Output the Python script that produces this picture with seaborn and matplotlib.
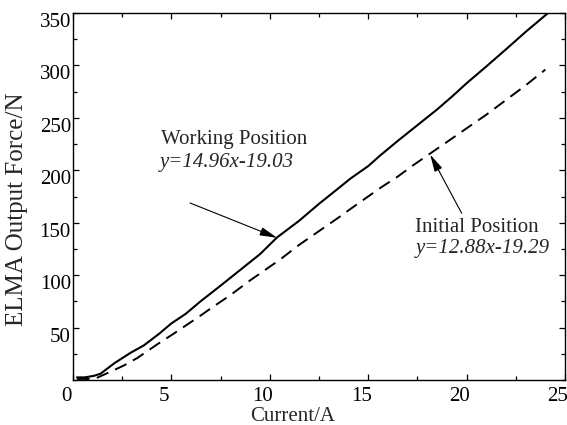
import numpy as np
import pandas as pd
import matplotlib
matplotlib.use("Agg")
import matplotlib.pyplot as plt
from matplotlib.ticker import MultipleLocator
from matplotlib.transforms import ScaledTranslation
import seaborn as sns

# Measured ELMA output force versus coil current
current_working = [0.2, 0.6, 1.07, 1.4, 2.1, 2.93, 3.6, 4.37, 5.0, 5.72, 6.48, 7.5, 8.5,
                   9.5, 10.37, 11.5, 12.5, 13.5, 14.09, 15.0, 15.6, 16.5, 17.5, 18.5,
                   19.3, 20.0, 21.0, 22.04, 23.0, 24.14]
force_working = [2.5, 2.5, 4, 6, 16, 26, 33, 44, 54, 63, 75, 90, 105, 120, 136, 152, 168,
                 183, 192, 204, 214, 228, 243, 258, 271, 283, 299, 316, 332, 350]

current_initial = [0.2, 0.8, 1.15, 1.92, 2.6, 3.27, 4.28, 5.1, 6.45, 6.98, 8.0, 9.0, 10.53,
                   11.5, 12.5, 13.5, 14.09, 15.6, 16.5, 17.3, 18.15, 19.0, 20.0, 21.0,
                   22.0, 23.0, 24.0]
force_initial = [1, 1, 1.5, 8, 14, 21, 34, 44, 61, 68, 81, 95, 115, 129, 142, 155, 163,
                 183, 194, 205, 216, 227, 240, 253, 267, 281, 296]

x_ticks = [0, 5, 10, 15, 20, 25]
y_ticks = [50, 100, 150, 200, 250, 300, 350]

working_label = "Working Position"
working_fit = "y=14.96x-19.03"
initial_label = "Initial Position"
initial_fit = "y=12.88x-19.29"

sns.set_style("ticks")
plt.rcParams["font.family"] = ["Liberation Serif", "DejaVu Serif"]

fig = plt.figure(figsize=(5.67, 4.25), dpi=100)
ax = fig.add_axes([73 / 567, 45 / 425, 492 / 567, 367 / 425])

df_w = pd.DataFrame({"current": current_working, "force": force_working})
df_i = pd.DataFrame({"current": current_initial, "force": force_initial})

sns.lineplot(data=df_w, x="current", y="force", ax=ax, color="black", lw=1.5,
             sort=False, estimator=None)
sns.lineplot(data=df_i, x="current", y="force", ax=ax, color="black", lw=1.4,
             sort=False, estimator=None, dashes=False, linestyle=(0, (6.5, 3.8)))

ax.set_xlim(0, 25)
ax.set_ylim(0, 350)
ax.set_xticks(x_ticks)
ax.set_yticks(y_ticks)
ax.xaxis.set_minor_locator(MultipleLocator(2.5))
ax.yaxis.set_minor_locator(MultipleLocator(25))
ax.tick_params(which="both", direction="in", top=True, right=True, width=0.9,
               color="black", labelsize=15, labelcolor="black")
ax.tick_params(which="major", length=4.5)
ax.tick_params(which="minor", length=3)
ax.tick_params(axis="y", pad=1.5)
ax.tick_params(axis="x", pad=5)

for sp in ax.spines.values():
    sp.set_linewidth(1.0)
    sp.set_color("black")

# shift tick labels off their ticks
dx = ScaledTranslation(-7 / 100, 0, fig.dpi_scale_trans)
dy = ScaledTranslation(0, -7 / 100, fig.dpi_scale_trans)
for lab in ax.get_xticklabels():
    lab.set_transform(lab.get_transform() + dx)
for lab in ax.get_yticklabels():
    lab.set_transform(lab.get_transform() + dy)

ax.set_xlabel("Current/A", fontsize=15)
ax.set_ylabel("ELMA Output Force/N", fontsize=18)
ax.xaxis.set_label_coords(0.447, -0.074)
ax.yaxis.set_label_coords(-0.092, 0.466)

ax.text(4.47, 224.8, working_label, fontsize=15, va="baseline", ha="left")
ax.text(4.42, 202.8, working_fit, fontsize=15, va="baseline", ha="left", style="italic")
ax.text(17.38, 141.6, initial_label, fontsize=15, va="baseline", ha="left")
ax.text(17.43, 120.8, initial_fit, fontsize=15, va="baseline", ha="left", style="italic")

arrow = dict(arrowstyle="-|>,head_length=0.7,head_width=0.17", mutation_scale=15,
             lw=0.8, color="black", shrinkA=0, shrinkB=0)
ax.annotate("", xy=(10.37, 135.6), xytext=(5.95, 168.8), arrowprops=arrow)
ax.annotate("", xy=(18.15, 215.0), xytext=(19.75, 159.0), arrowprops=arrow)

fig.savefig("out.png", dpi=100)
